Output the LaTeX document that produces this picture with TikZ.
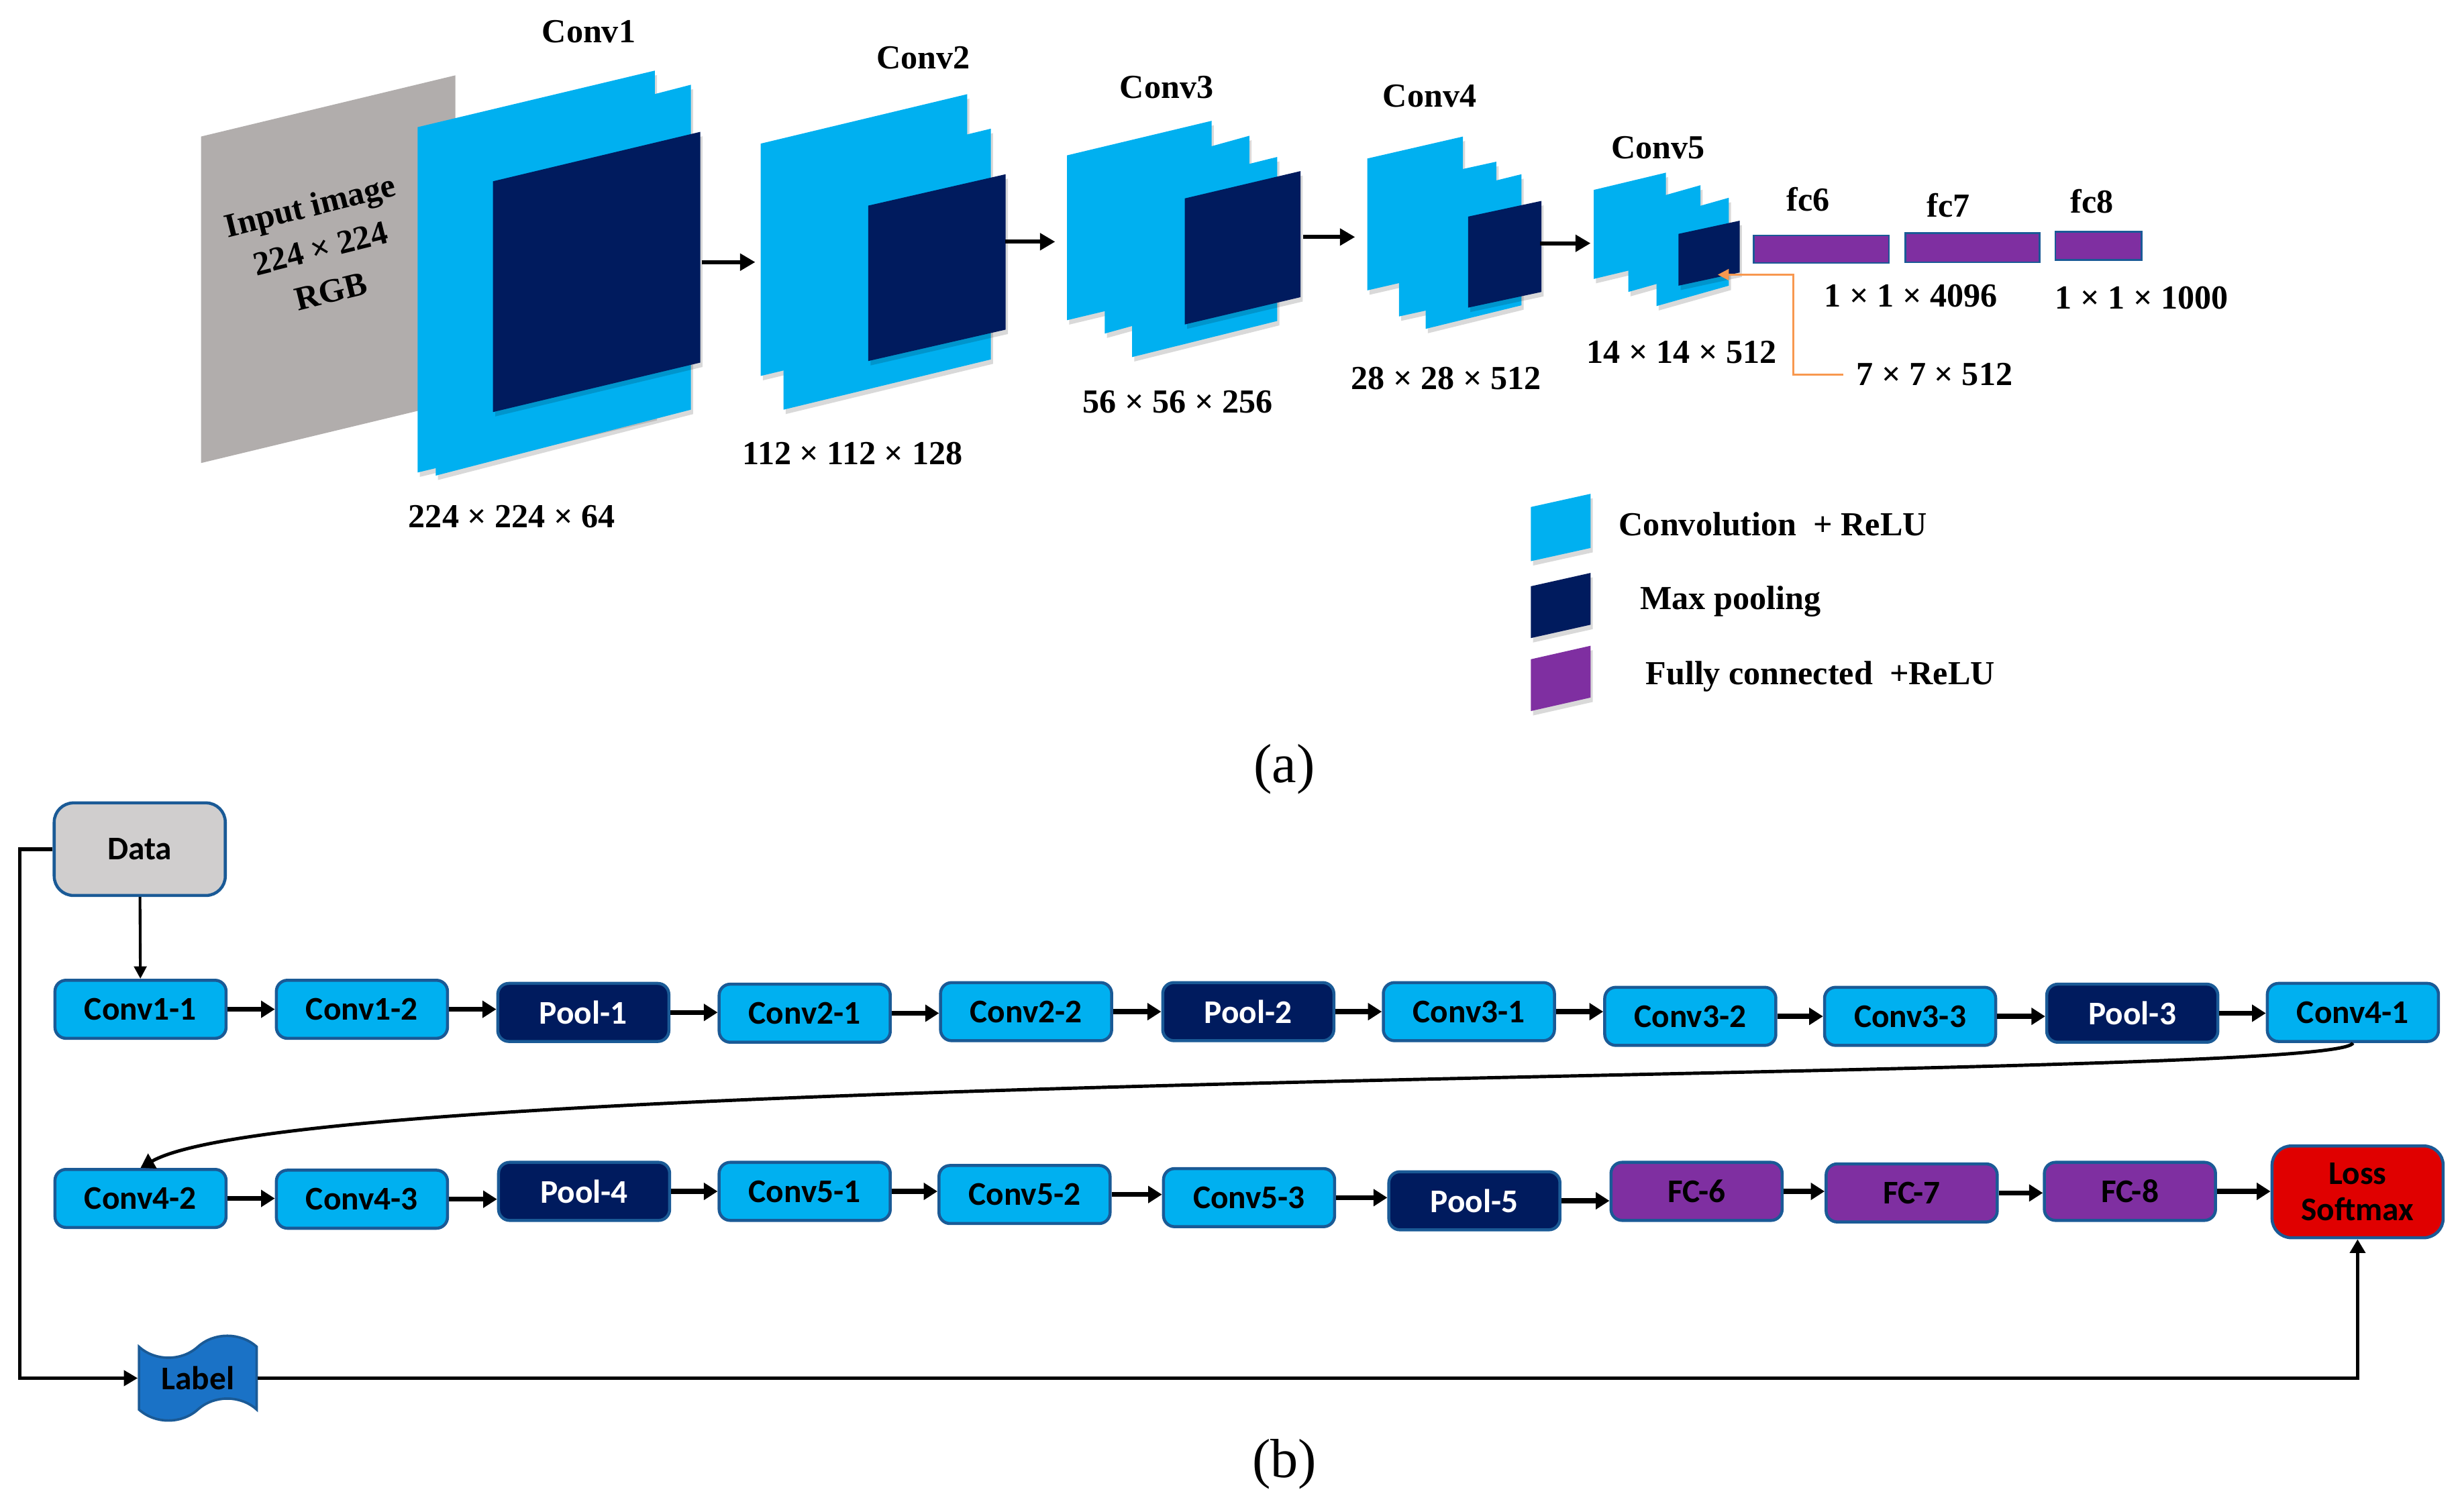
\documentclass[tikz,border=0pt]{standalone}
\usepackage{fontspec}
\setmainfont{Liberation Serif}
\newfontfamily\boxfont{Carlito}
\usetikzlibrary{arrows.meta,shapes.symbols}
\definecolor{cnnblue}{HTML}{00B0F0}
\definecolor{cnnnavy}{HTML}{001B5E}
\definecolor{fcpurple}{HTML}{7F2FA1}
\definecolor{lossred}{HTML}{E00000}
\definecolor{boxborder}{HTML}{1A5A96}
\definecolor{datagray}{HTML}{D0CECE}
\definecolor{inputgray}{HTML}{B1ADAC}
\definecolor{labelblue}{HTML}{1A72C6}
\definecolor{pointorange}{HTML}{F8984F}

% one slanted feature map: style, left x, top-left y, right x, top-right y, height
\newcommand{\cnnsheet}[6]{\fill[#1] (#2,#3) -- (#4,#5) -- (#4,#5+#6) -- (#2,#3+#6) -- cycle;}

\begin{document}
\begin{tikzpicture}[
    x=0.02cm, y=-0.02cm,
    sheetshadow/.style={preaction={fill=black, opacity=0.15, transform canvas={xshift=0.8pt, yshift=-1.6pt}}},
    convsheet/.style={fill=cnnblue, sheetshadow},
    poolsheet/.style={fill=cnnnavy, sheetshadow},
    fcbar/.style={fill=fcpurple, draw=boxborder, line width=0.6pt},
    toplabel/.style={font=\fontsize{12.2}{14}\selectfont\bfseries, inner sep=1pt},
    toparrow/.style={-{Triangle[length=5.5pt,width=6pt]}, line width=1.4pt},
    pointer/.style={-{Triangle[length=4pt,width=4pt]}, draw=pointorange, line width=0.8pt},
    layer/.style={rectangle, rounded corners=4pt, draw=boxborder, line width=1.1pt,
        minimum width=2.18cm, minimum height=0.74cm, inner sep=1pt,
        font=\boxfont\bfseries\fontsize{12}{13}\selectfont},
    convbox/.style={layer, fill=cnnblue},
    poolbox/.style={layer, fill=cnnnavy, text=white},
    fcbox/.style={layer, fill=fcpurple},
    flow/.style={-{Triangle[length=5pt,width=6pt]}, line width=1.8pt},
    fbline/.style={line width=1.3pt}
]
    \useasboundingbox (0,0) rectangle (1568,963);

    % === (a) FEATURE MAPS ===
    \cnnsheet{fill=inputgray}{128}{87}{290}{48}{208}
    \node[rotate=14, align=center, inner sep=0pt, font=\fontsize{12.2}{16}\selectfont\bfseries] (input) at (204,158)
        {Input image\\224 × 224\\RGB};

    % Conv1
    \cnnsheet{convsheet}{266}{81}{417}{45}{220}
    \cnnsheet{convsheet}{277.5}{96}{440}{54}{207}
    \cnnsheet{poolsheet}{314}{115.5}{446}{84}{147}
    % Conv2
    \cnnsheet{convsheet}{484.5}{91.5}{616}{60}{148}
    \cnnsheet{convsheet}{499}{114}{631}{82}{147}
    \cnnsheet{poolsheet}{553}{131}{640.5}{111}{99}
    % Conv3
    \cnnsheet{convsheet}{679.5}{99}{771.6}{77}{105}
    \cnnsheet{convsheet}{703.6}{112}{795.7}{86.5}{100.5}
    \cnnsheet{convsheet}{721}{123}{813.4}{100}{104.5}
    \cnnsheet{poolsheet}{754.6}{126.4}{828.3}{109}{80.3}
    % Conv4
    \cnnsheet{convsheet}{870.8}{101}{931.7}{87}{84}
    \cnnsheet{convsheet}{891}{116.6}{953}{103}{85}
    \cnnsheet{convsheet}{908}{126}{969}{111}{83.5}
    \cnnsheet{poolsheet}{935}{138}{981.7}{128}{58}
    % Conv5
    \cnnsheet{convsheet}{1015}{121}{1061}{110}{56.7}
    \cnnsheet{convsheet}{1037}{131}{1083}{118}{55}
    \cnnsheet{convsheet}{1055}{139}{1101}{126}{56}
    \cnnsheet{poolsheet}{1069}{149}{1108}{140.6}{33}
    \coordinate (c5pool) at (1094,175);

    % fully connected bars
    \draw[fcbar] (1117,150) rectangle (1203,167.6);
    \draw[fcbar] (1213.5,148.5) rectangle (1299,167);
    \draw[fcbar] (1309,147.7) rectangle (1364,165.6);

    % arrows between stages
    \coordinate (c1out) at (447,167);  \coordinate (c2in) at (481,167);
    \coordinate (c2out) at (640,154);  \coordinate (c3in) at (672,154);
    \coordinate (c3out) at (830,151);  \coordinate (c4in) at (863,151);
    \coordinate (c4out) at (981,155);  \coordinate (c5in) at (1013,155);
    \draw[toparrow] (c1out) -- (c2in);
    \draw[toparrow] (c2out) -- (c3in);
    \draw[toparrow] (c3out) -- (c4in);
    \draw[toparrow] (c4out) -- (c5in);

    % stage titles and sizes
    \node[toplabel] (conv1lbl) at (375,20) {Conv1};
    \node[toplabel] (conv2lbl) at (588,37) {Conv2};
    \node[toplabel] (conv3lbl) at (743,55.6) {Conv3};
    \node[toplabel] (conv4lbl) at (910.5,61) {Conv4};
    \node[toplabel] (conv5lbl) at (1056,94) {Conv5};
    \node[toplabel] (fc6lbl) at (1151.6,127) {fc6};
    \node[toplabel] (fc7lbl) at (1241,131) {fc7};
    \node[toplabel] (fc8lbl) at (1332.5,128.4) {fc8};

    \node[toplabel] (dim1) at (326,329) {224 × 224 × 64};
    \node[toplabel] (dim2) at (543,289) {112 × 112 × 128};
    \node[toplabel] (dim3) at (750,256) {56 × 56 × 256};
    \node[toplabel] (dim4) at (921,241) {28 × 28 × 512};
    \node[toplabel] (dim5) at (1071,224.5) {14 × 14 × 512};
    \node[toplabel] (dimfc) at (1217,188.4) {1 × 1 × 4096};
    \node[toplabel] (dimout) at (1364,189.6) {1 × 1 × 1000};
    \node[toplabel] (pooldim) at (1232,238.6) {7 × 7 × 512};

    \draw[pointer] (pooldim.west) ++(-6,0) -- ++(-32,0) |- (c5pool);

    % legend
    \cnnsheet{convsheet}{975}{323}{1013}{314.6}{34.5}
    \cnnsheet{poolsheet}{975}{373.5}{1013}{365}{33}
    \cnnsheet{fill=fcpurple, sheetshadow}{975}{420}{1013}{411.4}{33}
    \node[toplabel, anchor=west] (legconv) at (1029,334) {Convolution\ \ + ReLU};
    \node[toplabel, anchor=west] (legpool) at (1042.5,383) {Max pooling};
    \node[toplabel, anchor=west] (legfc) at (1046,431) {Fully connected\ \ +ReLU};

    \node[font=\fontsize{20}{22}\selectfont] (capa) at (818,490) {(a)};

    % === (b) LAYER PIPELINE ===
    \node[layer, fill=datagray, rounded corners=7pt, minimum height=1.18cm] (data) at (89,541) {Data};

    \node[convbox] (conv11) at (89.5,643) {Conv1-1};
    \node[convbox] (conv12) at (230.5,643) {Conv1-2};
    \node[poolbox] (pool1) at (371.5,645) {Pool-1};
    \node[convbox] (conv21) at (512.5,645.5) {Conv2-1};
    \node[convbox] (conv22) at (653.5,644.5) {Conv2-2};
    \node[poolbox] (pool2) at (795,644.5) {Pool-2};
    \node[convbox] (conv31) at (935.5,644.5) {Conv3-1};
    \node[convbox] (conv32) at (1076.5,647.5) {Conv3-2};
    \node[convbox] (conv33) at (1216.5,647.5) {Conv3-3};
    \node[poolbox] (pool3) at (1358,645.5) {Pool-3};
    \node[convbox] (conv41) at (1498.5,645) {Conv4-1};

    \node[convbox] (conv42) at (89.5,763.5) {Conv4-2};
    \node[convbox] (conv43) at (230.5,764) {Conv4-3};
    \node[poolbox] (pool4) at (372,759) {Pool-4};
    \node[convbox] (conv51) at (512.5,759) {Conv5-1};
    \node[convbox] (conv52) at (652.5,761) {Conv5-2};
    \node[convbox] (conv53) at (795.5,763) {Conv5-3};
    \node[poolbox] (pool5) at (939,765) {Pool-5};
    \node[fcbox] (fc6) at (1080.5,759) {FC-6};
    \node[fcbox] (fc7) at (1217.5,760) {FC-7};
    \node[fcbox] (fc8) at (1356.5,759) {FC-8};
    \node[layer, fill=lossred, rounded corners=7pt, minimum height=1.17cm, align=center] (loss) at (1501.5,759.3) {Loss\\Softmax};

    \node[tape, tape bend top=in and out, tape bend bottom=in and out, tape bend height=0.28cm,
          fill=labelblue, draw=boxborder, line width=0.9pt, minimum width=1.5cm, minimum height=1.08cm,
          inner sep=1pt, font=\boxfont\bfseries\fontsize{12}{13}\selectfont] (label) at (126,878) {Label};

    % connectors
    \draw[-{Triangle[length=4.5pt,width=4.5pt]}, line width=1pt] (data) -- (conv11);
    \foreach \a/\b in {conv11/conv12, conv12/pool1, pool1/conv21, conv21/conv22, conv22/pool2,
                       pool2/conv31, conv31/conv32, conv32/conv33, conv33/pool3, pool3/conv41,
                       conv42/conv43, conv43/pool4, pool4/conv51, conv51/conv52, conv52/conv53,
                       conv53/pool5, pool5/fc6, fc6/fc7, fc7/fc8, fc8/loss}
        \draw[flow] (\a.east) -- (\a.east -| \b.west);
    \draw[flow, line width=1.2pt] (conv41.south) .. controls (1490,690) and (200,680) .. (conv42.north);
    \draw[fbline, -{Triangle[length=5pt,width=5.5pt]}] (data.west) -- ++(-21,0) |- (label.west);
    \draw[fbline, -{Triangle[length=5pt,width=5.5pt]}] (label.east) -| (loss.south);

    \node[font=\fontsize{20}{22}\selectfont] (capb) at (818,933) {(b)};
\end{tikzpicture}
\end{document}
